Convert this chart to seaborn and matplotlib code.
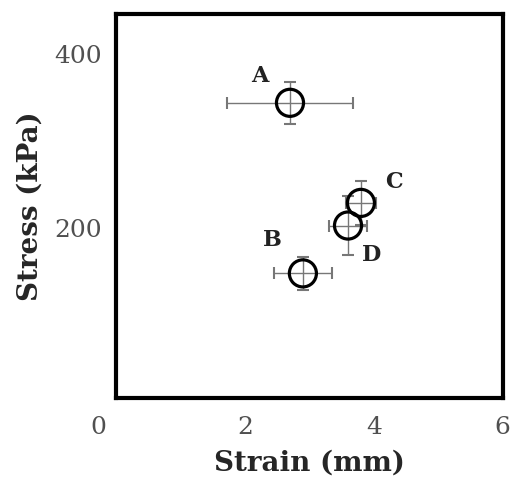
import numpy as np
import pandas as pd
import matplotlib as mpl
mpl.use("Agg")
import matplotlib.pyplot as plt
import matplotlib.transforms as mtransforms
import seaborn as sns

# Data
labels = ["A", "B", "C", "D"]
strain = [2.70, 2.90, 3.80, 3.60]
stress = [344, 148, 229, 203]
strain_err = [0.98, 0.45, 0.23, 0.29]
stress_err = [24, 19, 25, 34]
xticks = [0, 2, 4, 6]
yticks = [200, 400]

df = pd.DataFrame({"label": labels, "strain": strain, "stress": stress,
                   "xerr": strain_err, "yerr": stress_err})

sns.set_style("white")
plt.rcParams['font.family'] = ['DejaVu Serif']

fig = plt.figure(figsize=(5.13, 4.84), dpi=100)
ax = fig.add_axes([0.226, 0.178, 0.754, 0.793])

ax.errorbar(df["strain"], df["stress"], xerr=df["xerr"], yerr=df["yerr"],
            fmt="none", ecolor="#777777", elinewidth=1.0, capsize=4,
            capthick=1.5, zorder=2)
sns.scatterplot(data=df, x="strain", y="stress", ax=ax, s=380,
                facecolor="none", edgecolor="black", linewidth=2.3,
                zorder=3, legend=False)

# Point labels
offsets = {"A": (-22, 19), "B": (-22, 24), "C": (24, 15), "D": (17, -21)}
for _, r in df.iterrows():
    ax.annotate(r["label"], (r["strain"], r["stress"]),
                xytext=offsets[r["label"]], textcoords="offset points",
                ha="center", va="center", fontsize=16, fontweight="bold",
                color="#222222")

ax.set_xlim(0, 6)
ax.set_ylim(5, 446)
ax.set_xticks(xticks)
ax.set_yticks(yticks)
ax.tick_params(direction="in", length=5, width=0.8, color="#888888",
               labelsize=18, labelcolor="#505050", pad=10)
ax.tick_params(axis="x", pad=13)

# the origin label sits left of the axis corner
lab0 = ax.get_xticklabels()[0]
lab0.set_transform(lab0.get_transform() +
                   mtransforms.ScaledTranslation(-0.18, 0, fig.dpi_scale_trans))

for sp in ax.spines.values():
    sp.set_linewidth(3)
    sp.set_color("black")

ax.set_xlabel("Strain (mm)", fontsize=20, fontweight="bold", labelpad=8)
ax.set_ylabel("Stress (kPa)", fontsize=20, fontweight="bold", labelpad=8)

fig.savefig("out.png", dpi=100)
